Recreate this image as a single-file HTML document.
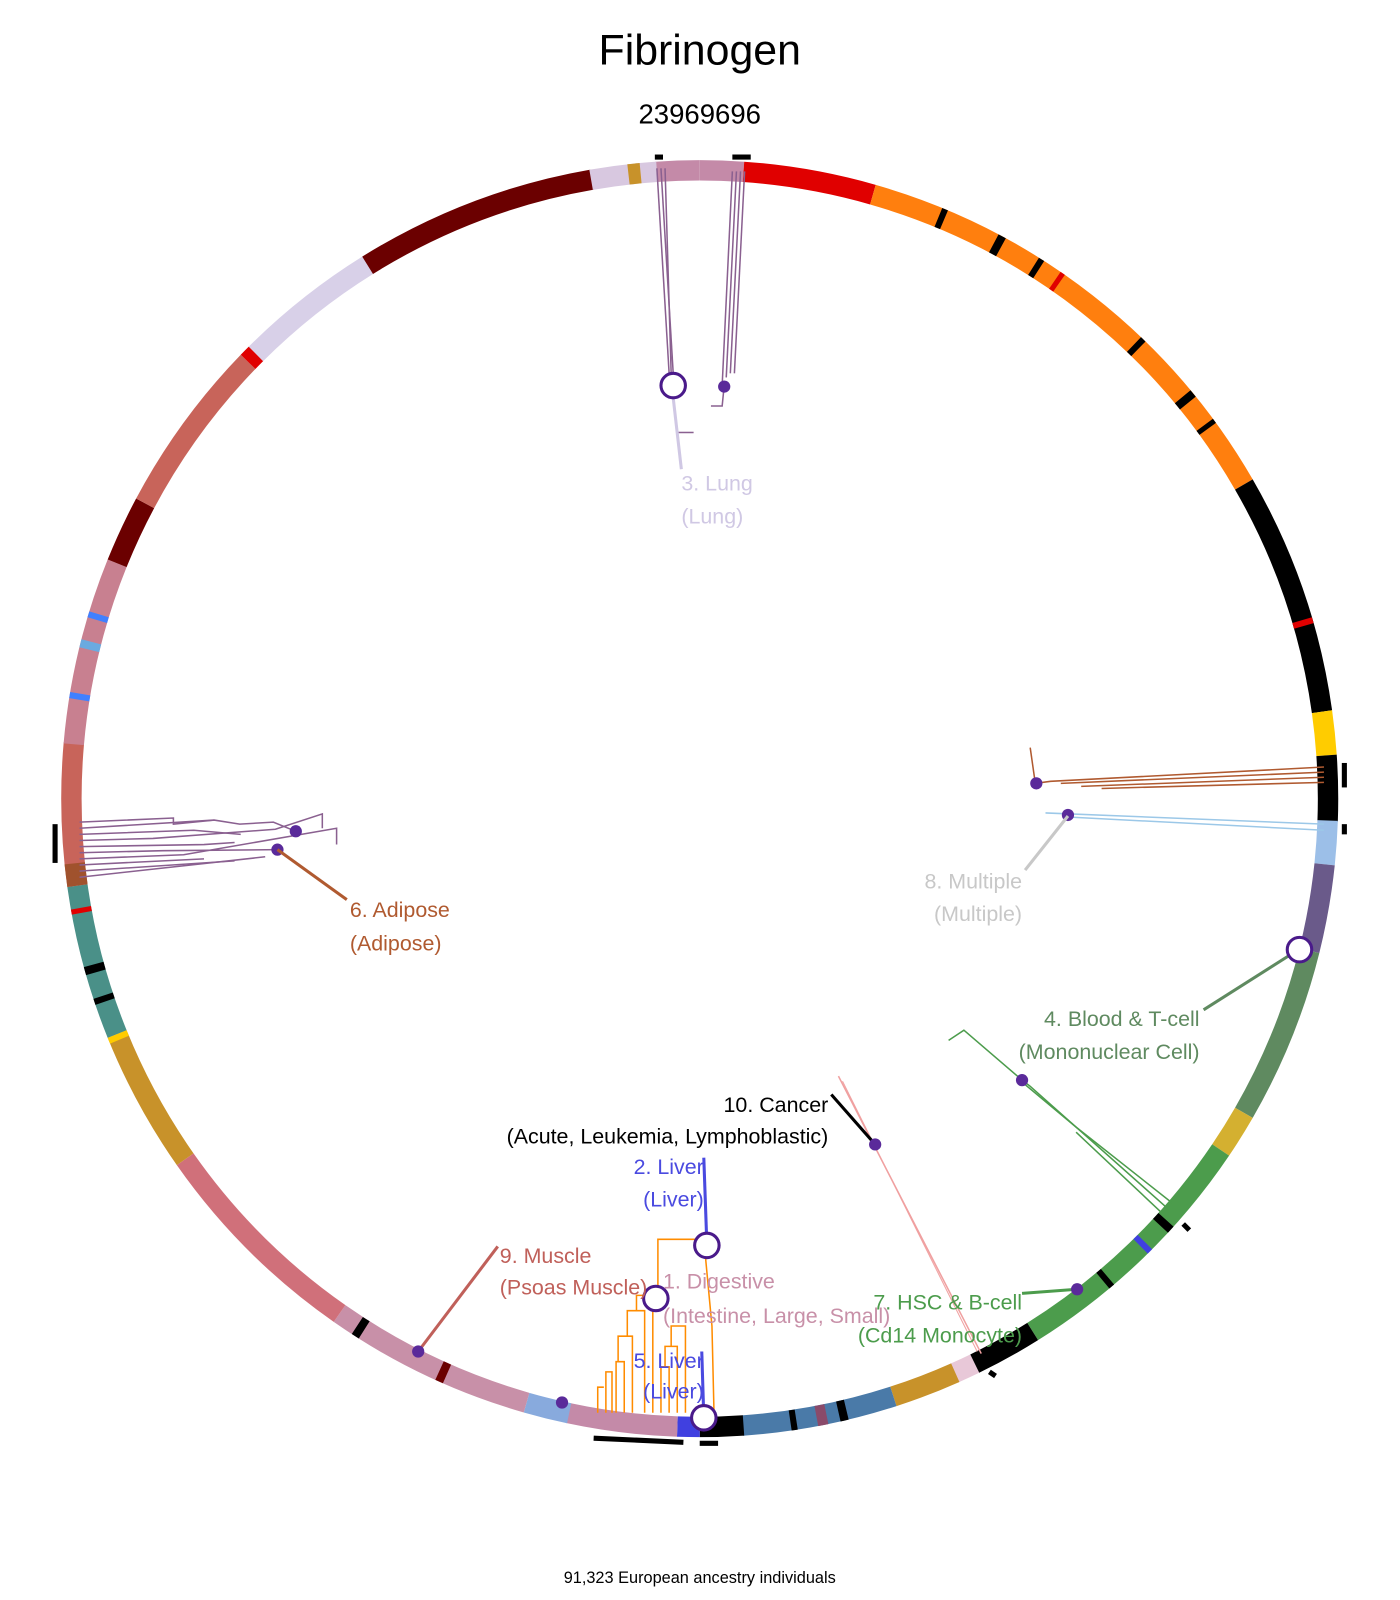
<!DOCTYPE html>
<html><head><meta charset="utf-8"><style>
html,body{margin:0;padding:0;background:#fff;}
svg{display:block;}
text{font-family:"Liberation Sans",sans-serif;}
</style></head><body>
<svg width="1400" height="1600" viewBox="0 0 1400 1600" xmlns="http://www.w3.org/2000/svg">
<rect width="1400" height="1600" fill="#fff"/>
<g transform="scale(1.02)">
<text x="686" y="63" font-size="42" text-anchor="middle" fill="#000">Fibrinogen</text>
<text x="686" y="121" font-size="27" text-anchor="middle" fill="#000">23969696</text>
<text x="686" y="1552" font-size="16" text-anchor="middle" fill="#000">91,323 European ancestry individuals</text>

<g transform="translate(686,783) rotate(-90)" fill="none" stroke-width="20">
<circle r="616" stroke="#c48aa8" stroke-dasharray="43 4000" stroke-dashoffset="-3827"/>
<circle r="616" stroke="#c48aa8" stroke-dasharray="43 4000" stroke-dashoffset="0"/>
<circle r="616" stroke="#e00000" stroke-dasharray="129 4000" stroke-dashoffset="-43"/>
<circle r="616" stroke="#ff7f0e" stroke-dasharray="473 4000" stroke-dashoffset="-172"/>
<circle r="616" stroke="#000" stroke-dasharray="237 4000" stroke-dashoffset="-645"/>
<circle r="616" stroke="#ffcc00" stroke-dasharray="43 4000" stroke-dashoffset="-882"/>
<circle r="616" stroke="#000" stroke-dasharray="65 4000" stroke-dashoffset="-925"/>
<circle r="616" stroke="#9cbfe8" stroke-dasharray="43 4000" stroke-dashoffset="-989"/>
<circle r="616" stroke="#6a5a8a" stroke-dasharray="86 4000" stroke-dashoffset="-1032"/>
<circle r="616" stroke="#5f8a60" stroke-dasharray="172 4000" stroke-dashoffset="-1118"/>
<circle r="616" stroke="#d4b030" stroke-dasharray="43 4000" stroke-dashoffset="-1290"/>
<circle r="616" stroke="#4c9c4c" stroke-dasharray="258 4000" stroke-dashoffset="-1333"/>
<circle r="616" stroke="#000" stroke-dasharray="65 4000" stroke-dashoffset="-1591"/>
<circle r="616" stroke="#e8c8d8" stroke-dasharray="22 4000" stroke-dashoffset="-1656"/>
<circle r="616" stroke="#c8922a" stroke-dasharray="65 4000" stroke-dashoffset="-1677"/>
<circle r="616" stroke="#4a7aa8" stroke-dasharray="151 4000" stroke-dashoffset="-1742"/>
<circle r="616" stroke="#000" stroke-dasharray="43 4000" stroke-dashoffset="-1892"/>
<circle r="616" stroke="#4040e0" stroke-dasharray="22 4000" stroke-dashoffset="-1935"/>
<circle r="616" stroke="#c48aa8" stroke-dasharray="108 4000" stroke-dashoffset="-1957"/>
<circle r="616" stroke="#88aadd" stroke-dasharray="43 4000" stroke-dashoffset="-2064"/>
<circle r="616" stroke="#c890a8" stroke-dasharray="204 4000" stroke-dashoffset="-2107"/>
<circle r="616" stroke="#d0707a" stroke-dasharray="215 4000" stroke-dashoffset="-2311"/>
<circle r="616" stroke="#c8922a" stroke-dasharray="140 4000" stroke-dashoffset="-2526"/>
<circle r="616" stroke="#4a9088" stroke-dasharray="151 4000" stroke-dashoffset="-2666"/>
<circle r="616" stroke="#c8645a" stroke-dasharray="140 4000" stroke-dashoffset="-2817"/>
<circle r="616" stroke="#c88090" stroke-dasharray="183 4000" stroke-dashoffset="-2956"/>
<circle r="616" stroke="#6b0000" stroke-dasharray="65 4000" stroke-dashoffset="-3139"/>
<circle r="616" stroke="#c8645a" stroke-dasharray="172 4000" stroke-dashoffset="-3204"/>
<circle r="616" stroke="#e00000" stroke-dasharray="11 4000" stroke-dashoffset="-3376"/>
<circle r="616" stroke="#d8d0e8" stroke-dasharray="140 4000" stroke-dashoffset="-3387"/>
<circle r="616" stroke="#6b0000" stroke-dasharray="237 4000" stroke-dashoffset="-3527"/>
<circle r="616" stroke="#d8c8e0" stroke-dasharray="65 4000" stroke-dashoffset="-3763"/>
<circle r="616" stroke="#000" stroke-dasharray="6 4000" stroke-dashoffset="-240"/>
<circle r="616" stroke="#000" stroke-dasharray="8 4000" stroke-dashoffset="-300"/>
<circle r="616" stroke="#000" stroke-dasharray="6 4000" stroke-dashoffset="-345"/>
<circle r="616" stroke="#e00000" stroke-dasharray="5 4000" stroke-dashoffset="-370"/>
<circle r="616" stroke="#000" stroke-dasharray="6 4000" stroke-dashoffset="-470"/>
<circle r="616" stroke="#000" stroke-dasharray="8 4000" stroke-dashoffset="-540"/>
<circle r="616" stroke="#000" stroke-dasharray="5 4000" stroke-dashoffset="-575"/>
<circle r="616" stroke="#e00000" stroke-dasharray="6 4000" stroke-dashoffset="-790"/>
<circle r="616" stroke="#000" stroke-dasharray="8 4000" stroke-dashoffset="-1420"/>
<circle r="616" stroke="#4040e0" stroke-dasharray="6 4000" stroke-dashoffset="-1450"/>
<circle r="616" stroke="#000" stroke-dasharray="6 4000" stroke-dashoffset="-1500"/>
<circle r="616" stroke="#000" stroke-dasharray="8 4000" stroke-dashoffset="-1790"/>
<circle r="616" stroke="#8a4a6a" stroke-dasharray="10 4000" stroke-dashoffset="-1810"/>
<circle r="616" stroke="#000" stroke-dasharray="6 4000" stroke-dashoffset="-1840"/>
<circle r="616" stroke="#6b0000" stroke-dasharray="8 4000" stroke-dashoffset="-2190"/>
<circle r="616" stroke="#000" stroke-dasharray="8 4000" stroke-dashoffset="-2282"/>
<circle r="616" stroke="#000" stroke-dasharray="6 4000" stroke-dashoffset="-2700"/>
<circle r="616" stroke="#000" stroke-dasharray="8 4000" stroke-dashoffset="-2730"/>
<circle r="616" stroke="#ffcc00" stroke-dasharray="6 4000" stroke-dashoffset="-2660"/>
<circle r="616" stroke="#e00000" stroke-dasharray="5 4000" stroke-dashoffset="-2790"/>
<circle r="616" stroke="#a0522d" stroke-dasharray="22 4000" stroke-dashoffset="-2817"/>
<circle r="616" stroke="#4080ff" stroke-dasharray="6 4000" stroke-dashoffset="-3000"/>
<circle r="616" stroke="#6aaae0" stroke-dasharray="8 4000" stroke-dashoffset="-3050"/>
<circle r="616" stroke="#4080ff" stroke-dasharray="6 4000" stroke-dashoffset="-3080"/>
<circle r="616" stroke="#8888dd" stroke-dasharray="6 4000" stroke-dashoffset="-3878"/>
<circle r="616" stroke="#c8922a" stroke-dasharray="12 4000" stroke-dashoffset="-3800"/>
</g>
<g stroke="#000" stroke-width="5">
<line x1="642" y1="154" x2="650" y2="154"/><line x1="718" y1="154" x2="736" y2="154"/>
<line x1="1318" y1="748" x2="1318" y2="772"/><line x1="1318" y1="808" x2="1318" y2="818"/>
<line x1="54" y1="808" x2="54" y2="846"/>
<line x1="582" y1="1410" x2="670" y2="1414"/><line x1="686" y1="1415" x2="704" y2="1415"/>
<line x1="1160" y1="1200" x2="1166" y2="1206"/><line x1="970" y1="1345" x2="976" y2="1349"/>
</g>

<g stroke="#8a6090" stroke-width="1.5" fill="none">
<path d="M644 165 L656 366"/><path d="M648 165 L660 366"/><path d="M652 165 L658 366"/>
<path d="M718 168 L708 378"/><path d="M722 168 L712 370"/><path d="M726 168 L716 366"/><path d="M730 168 L720 366"/>
<path d="M697 398 L708 398 L710 378"/>
<path d="M665 424 L680 424"/>
</g>
<line x1="660" y1="390" x2="668" y2="460" stroke="#d0c8e4" stroke-width="3"/>
<circle cx="660" cy="378" r="12" fill="#fff" stroke="#4a1a8a" stroke-width="3"/>
<circle cx="710" cy="379" r="6" fill="#5a2a9a"/>
<text x="668" y="481" font-size="21" fill="#d0c8e4">3. Lung</text>
<text x="668" y="513" font-size="21" fill="#d0c8e4">(Lung)</text>

<g stroke="#b05a30" stroke-width="1.5" fill="none">
<path d="M1298 752 L1030 766 L1015 768"/><path d="M1298 757 L1040 768"/><path d="M1298 762 L1060 771"/><path d="M1298 767 L1080 773"/>
<path d="M1010 733 L1015 768"/>
</g>
<circle cx="1016" cy="768" r="6" fill="#5a2a9a"/>
<g stroke="#9cc8e8" stroke-width="1.5"><line x1="1298" y1="808" x2="1025" y2="797"/><line x1="1298" y1="814" x2="1047" y2="801"/></g>
<circle cx="1047" cy="799" r="6" fill="#5a2a9a"/>
<line x1="1047" y1="800" x2="1005" y2="853" stroke="#c8c8c8" stroke-width="3"/>
<text x="1002" y="871" font-size="21" fill="#c8c8c8" text-anchor="end">8. Multiple</text>
<text x="1002" y="903" font-size="21" fill="#c8c8c8" text-anchor="end">(Multiple)</text>

<line x1="1273" y1="931" x2="1180" y2="990" stroke="#5f8a60" stroke-width="3"/>
<circle cx="1274" cy="931" r="12" fill="#fff" stroke="#4a1a8a" stroke-width="3"/>
<text x="1176" y="1006" font-size="21" fill="#5f8a60" text-anchor="end">4. Blood &amp; T-cell</text>
<text x="1176" y="1038" font-size="21" fill="#5f8a60" text-anchor="end">(Mononuclear Cell)</text>

<g stroke="#4c9c4c" stroke-width="1.5" fill="none">
<path d="M1145 1185 L1010 1065 L1001 1058"/><path d="M1150 1180 L1055 1105 L1001 1060"/><path d="M1140 1190 L1055 1110"/>
<path d="M1001 1058 L945 1010 L930 1020"/>
</g>
<circle cx="1002" cy="1059" r="6" fill="#5a2a9a"/>
<line x1="822" y1="1055" x2="962" y2="1327" stroke="#f0a0a0" stroke-width="1.5"/>
<line x1="826" y1="1060" x2="958" y2="1325" stroke="#f0a0a0" stroke-width="1"/>

<line x1="815" y1="1073" x2="858" y2="1122" stroke="#000" stroke-width="3"/>
<circle cx="858" cy="1122" r="6" fill="#5a2a9a"/>
<text x="812" y="1090" font-size="21" fill="#000" text-anchor="end">10. Cancer</text>
<text x="812" y="1121" font-size="21" fill="#000" text-anchor="end">(Acute, Leukemia, Lymphoblastic)</text>

<g stroke="#ff8c00" stroke-width="1.5" fill="none">
<path d="M700 1385 L698 1300 L690 1215 L645 1215 L645 1260"/>
<path d="M594 1385 L594 1345 L600 1345 L600 1385"/>
<path d="M604 1385 L604 1335 L612 1335 L612 1385"/>
<path d="M606 1335 L606 1310 L620 1310 L620 1385"/>
<path d="M615 1310 L615 1285 L632 1285 L632 1385"/>
<path d="M624 1285 L624 1270 L640 1270 L640 1385"/>
<path d="M648 1385 L648 1340 L656 1340 L656 1385"/>
<path d="M652 1340 L652 1320 L664 1320 L664 1385"/>
<path d="M658 1320 L658 1300 L672 1300 L672 1385"/>
<path d="M586 1385 L586 1360 L592 1360"/>
</g>
<line x1="690" y1="1135" x2="693" y2="1220" stroke="#4a4ae0" stroke-width="3"/>
<circle cx="693" cy="1221" r="12" fill="#fff" stroke="#4a1a8a" stroke-width="3"/>
<text x="690" y="1151" font-size="21" fill="#4a4ae0" text-anchor="end">2. Liver</text>
<text x="690" y="1183" font-size="21" fill="#4a4ae0" text-anchor="end">(Liver)</text>
<circle cx="643" cy="1273" r="12" fill="#fff" stroke="#4a1a8a" stroke-width="3"/>
<text x="650" y="1263" font-size="21" fill="#c890a8">1. Digestive</text>
<text x="650" y="1297" font-size="21" fill="#c890a8">(Intestine, Large, Small)</text>
<line x1="688" y1="1325" x2="690" y2="1390" stroke="#4a4ae0" stroke-width="3"/>
<circle cx="690" cy="1390" r="12" fill="#fff" stroke="#4a1a8a" stroke-width="3"/>
<text x="690" y="1341" font-size="21" fill="#4a4ae0" text-anchor="end">5. Liver</text>
<text x="690" y="1371" font-size="21" fill="#4a4ae0" text-anchor="end">(Liver)</text>

<line x1="1002" y1="1268" x2="1056" y2="1264" stroke="#4c9c4c" stroke-width="3"/>
<circle cx="1056" cy="1264" r="6" fill="#5a2a9a"/>
<text x="1002" y="1284" font-size="21" fill="#4c9c4c" text-anchor="end">7. HSC &amp; B-cell</text>
<text x="1002" y="1316" font-size="21" fill="#4c9c4c" text-anchor="end">(Cd14 Monocyte)</text>

<line x1="488" y1="1222" x2="410" y2="1325" stroke="#c0605a" stroke-width="3"/>
<circle cx="410" cy="1325" r="6" fill="#5a2a9a"/>
<circle cx="551" cy="1375" r="6" fill="#5a2a9a"/>
<text x="490" y="1238" font-size="21" fill="#c0605a">9. Muscle</text>
<text x="490" y="1269" font-size="21" fill="#c0605a">(Psoas Muscle)</text>

<g stroke="#8a6090" stroke-width="1.5" fill="none">
<path d="M78 806 L170 802 L170 808 L210 804"/><path d="M78 812 L210 804 L235 808 L268 806 L290 815"/>
<path d="M78 818 L190 814 L236 818"/><path d="M78 824 L150 822 L270 813 L316 798 L316 812"/>
<path d="M78 830 L200 828 L230 826"/><path d="M78 836 L160 834 L272 833"/>
<path d="M78 842 L180 838 L330 812 L330 828"/><path d="M78 848 L200 842"/><path d="M78 854 L230 844"/><path d="M78 860 L260 840"/>
</g>
<circle cx="290" cy="815" r="6" fill="#5a2a9a"/>
<circle cx="272" cy="833" r="6" fill="#5a2a9a"/>
<line x1="272" y1="833" x2="340" y2="882" stroke="#b05a30" stroke-width="3"/>
<text x="343" y="899" font-size="21" fill="#b05a30">6. Adipose</text>
<text x="343" y="932" font-size="21" fill="#b05a30">(Adipose)</text>
</g>
</svg>
</body></html>
